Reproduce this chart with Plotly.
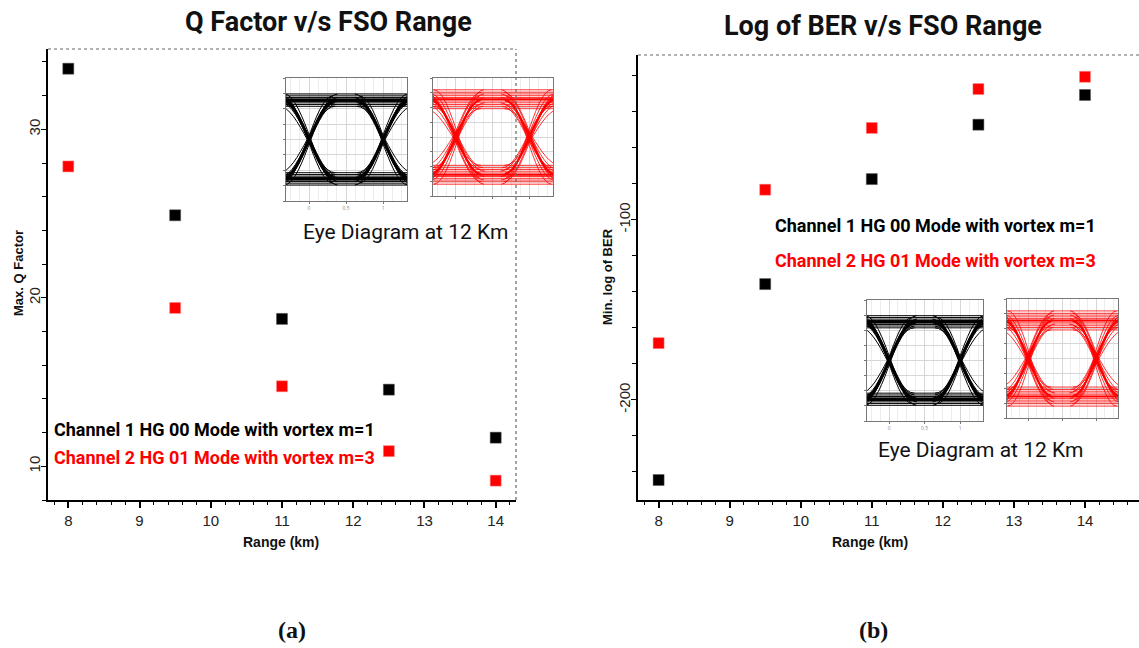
import plotly.graph_objects as go

# ---------------- data ----------------
range_km = [8, 9.5, 11, 12.5, 14]
q_ch1 = [33.6, 24.9, 18.75, 14.55, 11.7]
q_ch2 = [27.8, 19.4, 14.75, 10.9, 9.15]
ber_ch1 = [-244.5, -135.7, -77.4, -47.2, -30.7]
ber_ch2 = [-168.5, -83.3, -49.0, -27.4, -20.6]

x_ticks = [8, 9, 10, 11, 12, 13, 14]
q_ticks = [10, 20, 30]
ber_ticks = [-200, -100]
ber_tick_text = ["-200", "-100"]

legend1 = "Channel 1 HG 00 Mode with vortex m=1"
legend2 = "Channel 2 HG 01 Mode with vortex m=3"
eye_caption = "Eye Diagram at 12 Km"

W, H = 1139, 648
NARROW = "Roboto, Liberation Sans, sans-serif"
ARIAL = "Liberation Sans, Arial, sans-serif"


def px_x(p):
    return p / W


def px_y(p):
    return 1 - p / H


fig = go.Figure()

fig.add_trace(go.Scatter(x=range_km, y=q_ch1, mode="markers", xaxis="x", yaxis="y",
                         marker=dict(symbol="square", size=11, color="#000000",
                                     line=dict(color="#555", width=0.5)), showlegend=False))
fig.add_trace(go.Scatter(x=range_km, y=q_ch2, mode="markers", xaxis="x", yaxis="y",
                         marker=dict(symbol="square", size=11, color="#ff0000",
                                     line=dict(color="#f88", width=0.5)), showlegend=False))
fig.add_trace(go.Scatter(x=range_km, y=ber_ch1, mode="markers", xaxis="x2", yaxis="y2",
                         marker=dict(symbol="square", size=11, color="#000000",
                                     line=dict(color="#555", width=0.5)), showlegend=False))
fig.add_trace(go.Scatter(x=range_km, y=ber_ch2, mode="markers", xaxis="x2", yaxis="y2",
                         marker=dict(symbol="square", size=11, color="#ff0000",
                                     line=dict(color="#f88", width=0.5)), showlegend=False))

xaxis_common = dict(
    showgrid=False, zeroline=False, showline=True, linecolor="#000", linewidth=2,
    ticks="outside", ticklen=6, tickwidth=1.5, tickcolor="#000",
    tickvals=x_ticks, tickfont=dict(family=ARIAL, size=15, color="#222"),
    minor=dict(dtick=0.2, ticks="outside", ticklen=3, tickcolor="#000", tickwidth=1),
)
yaxis_common = dict(
    showgrid=False, zeroline=False, showline=True, linecolor="#000", linewidth=1.5,
    ticks="outside", ticklen=5, tickwidth=1.2, tickcolor="#000", ticklabelstandoff=-5,
    tickangle=-90, tickfont=dict(family=ARIAL, size=15, color="#222"),
)

ly0, ly1 = px_y(500), px_y(49)
ry0, ry1 = px_y(500), px_y(55)

layout = dict(
    width=W, height=H, margin=dict(l=0, r=0, t=0, b=0),
    paper_bgcolor="white", plot_bgcolor="white",
    xaxis=dict(domain=[px_x(48), px_x(516)], range=[7.715, 14.285], anchor="y", **xaxis_common),
    yaxis=dict(domain=[ly0, ly1], range=[8.0, 34.77], anchor="x", tickvals=q_ticks,
               minor=dict(dtick=2, ticks="outside", ticklen=4, tickcolor="#000"), **yaxis_common),
    xaxis2=dict(domain=[px_x(638), 1.0], range=[7.71, 14.76], anchor="y2", **xaxis_common),
    yaxis2=dict(domain=[ry0, ry1], range=[-255.6, -8.5], anchor="x2", tickvals=ber_ticks,
                ticktext=ber_tick_text,
                minor=dict(dtick=20, ticks="outside", ticklen=4, tickcolor="#000"), **yaxis_common),
)

# ---------------- eye diagram insets ----------------
insets = [
    ("3", 286, 407, 78, 201, "#000000"),
    ("4", 433, 553, 78, 196, "#ff0000"),
    ("5", 867, 983, 300, 421, "#000000"),
    ("6", 1007, 1118, 299, 418, "#ff0000"),
]
black_offsets = [-0.05, -0.035, -0.022, -0.01, 0.0, 0.01, 0.022, 0.035, 0.05]
red_offsets = [-0.08, -0.06, -0.045, -0.03, -0.015, 0.0, 0.015, 0.03, 0.045, 0.06, 0.08]
eye_hi, eye_lo = 0.82, 0.18
half_span = 0.36

shapes = []


def eye_path(dy, dc, hi, lo, hs):
    h = hi + dy
    l = lo - dy
    k = hs * 0.27
    parts = [f"M -0.4,{h} L 1.4,{h}", f"M -0.4,{l} L 1.4,{l}"]
    for c in (0 + dc, 1 - dc):
        parts.append(f"M {c-hs},{h} C {c-k},{h} {c+k},{l} {c+hs},{l}")
        parts.append(f"M {c-hs},{l} C {c-k},{l} {c+k},{h} {c+hs},{h}")
    return " ".join(parts)


for suf, x0, x1, y0, y1, col in insets:
    is_black = col == "#000000"
    layout["xaxis" + suf] = dict(
        domain=[px_x(x0), px_x(x1)], range=[-0.31, 1.32], anchor="y" + suf,
        showgrid=True, gridcolor="#d6d6d6", gridwidth=0.6, dtick=0.25, tick0=0,
        zeroline=False, showline=True, linecolor="#777", linewidth=1, mirror=True,
        ticks="outside", ticklen=2, tickcolor="#777", tickvals=[0, 0.5, 1],
        ticktext=["0", "0.5", "1"], tickfont=dict(size=5, color="#888"),
        showticklabels=is_black,
        minor=dict(dtick=0.125, showgrid=True, gridcolor="#ececec"),
    )
    layout["yaxis" + suf] = dict(
        domain=[px_y(y1), px_y(y0)], range=[0, 1], anchor="x" + suf,
        showgrid=True, gridcolor="#d6d6d6", gridwidth=0.6, dtick=0.125,
        zeroline=False, showline=True, linecolor="#777", linewidth=1, mirror=True,
        ticks="outside", ticklen=2, tickcolor="#777", showticklabels=False,
    )
    offs = black_offsets if is_black else red_offsets
    for i, d in enumerate(offs):
        dc = d * 0.5 if i % 2 == 0 else -d * 0.5
        hs = half_span + (0.02 if i % 3 == 0 else -0.02 if i % 3 == 1 else 0.0)
        shapes.append(dict(type="path", xref="x" + suf, yref="y" + suf,
                           path=eye_path(d, dc, eye_hi, eye_lo, hs),
                           line=dict(color=col, width=1.0 if is_black else 0.8),
                           layer="above"))
    shapes.append(dict(type="path", xref="x" + suf, yref="y" + suf,
                       path=eye_path(0, 0, eye_hi, eye_lo, half_span),
                       line=dict(color=col, width=3.0 if is_black else 2.0),
                       layer="above"))

# dotted frame borders
shapes.append(dict(type="line", xref="paper", yref="paper", x0=px_x(48), x1=px_x(516),
                   y0=ly1, y1=ly1, line=dict(color="#666", width=1.2, dash="dot")))
shapes.append(dict(type="line", xref="paper", yref="paper", x0=px_x(516), x1=px_x(516),
                   y0=ly0, y1=ly1, line=dict(color="#666", width=1.2, dash="dot")))
shapes.append(dict(type="line", xref="paper", yref="paper", x0=px_x(638), x1=1.0,
                   y0=ry1, y1=ry1, line=dict(color="#666", width=1.2, dash="dot")))

layout["shapes"] = shapes

ann = []


def add_text(text, xpx, ypx, size, color="#111", family=NARROW, bold=False, angle=0,
             anchor="center"):
    t = f"<b>{text}</b>" if bold else text
    ann.append(dict(text=t, x=px_x(xpx), y=px_y(ypx), xref="paper", yref="paper",
                    showarrow=False, xanchor=anchor, yanchor="middle", textangle=angle,
                    font=dict(family=family, size=size, color=color)))


add_text("Q Factor v/s FSO Range", 328, 22, 27, bold=True)
add_text("Log of BER v/s FSO Range", 883, 26, 27, bold=True)
add_text("Range (km)", 281, 542, 14, family=ARIAL, bold=True)
add_text("Range (km)", 870, 542, 14, family=ARIAL, bold=True)
add_text("Max. Q Factor", 18, 273, 13, family=ARIAL, bold=True, angle=-90)
add_text("Min. log of BER", 607, 277, 13, family=ARIAL, bold=True, angle=-90)
add_text(legend1, 52, 430, 18, color="#000", bold=True, anchor="left")
add_text(legend2, 52, 457, 18, color="#ff0000", bold=True, anchor="left")
add_text(legend1, 773, 225, 18, color="#000", bold=True, anchor="left")
add_text(legend2, 773, 260, 18, color="#ff0000", bold=True, anchor="left")
add_text(eye_caption, 405, 232, 21)
add_text(eye_caption, 980, 450, 21)
add_text("(a)", 292, 630, 24, family="Liberation Serif, Times New Roman, serif", bold=True)
add_text("(b)", 873, 630, 24, family="Liberation Serif, Times New Roman, serif", bold=True)

layout["annotations"] = ann
fig.update_layout(**layout)
fig.write_html("out.html")
